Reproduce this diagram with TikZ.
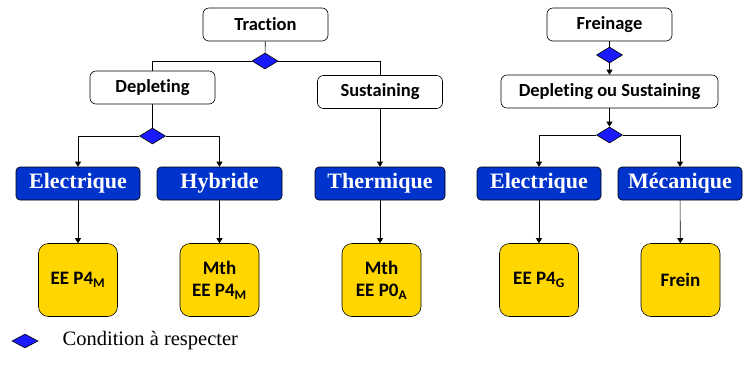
\documentclass[tikz,border=0pt]{standalone}
\usepackage{fontspec}
\setmainfont{Liberation Serif}
\newfontfamily\calibri[Ligatures=NoCommon]{Carlito}
\usetikzlibrary{shapes.geometric,arrows.meta}
\definecolor{condblue}{RGB}{26,26,255}
\definecolor{modeblue}{RGB}{0,51,204}
\definecolor{archgold}{RGB}{255,214,0}

\begin{document}
\begin{tikzpicture}[x=1pt, y=-1pt,
    cond/.style={diamond, draw, fill=condblue, minimum width=26pt,
      minimum height=16pt, inner sep=0pt, aspect=1.6},
    whitebox/.style={draw, fill=white, rounded corners=6pt, minimum width=125pt,
      minimum height=33pt, font=\calibri\bfseries\fontsize{18.5}{21}\selectfont},
    bluebox/.style={draw, fill=modeblue, rounded corners=4pt, minimum width=125pt,
      minimum height=33pt, text=white, font=\bfseries\fontsize{22}{26}\selectfont},
    yellowbox/.style={draw, fill=archgold, rounded corners=10pt, minimum width=79pt,
      minimum height=73pt, align=center,
      font=\calibri\bfseries\fontsize{19}{22.5}\selectfont},
    arr/.style={-{Triangle[length=5pt,width=6pt]}},
    line width=0.6pt]
  \useasboundingbox (0,0) rectangle (745,365);

  % traction
  \node[whitebox] (traction) at (265.5,24.5) {Traction};
  \node[cond] (c1) at (265,61) {};
  \node[whitebox] (depleting) at (152.5,87.5) {Depleting};
  \node[whitebox] (sustaining) at (380,92) {Sustaining};
  \node[cond] (c2) at (152.5,136) {};
  \node[bluebox, minimum width=124pt] (elec1) at (78,183.5) {Electrique};
  \node[bluebox] (hybride) at (219.5,183.5) {Hybride};
  \node[bluebox, minimum width=130pt] (thermique) at (380,183.5) {Thermique};
  \node[yellowbox] (ep4m) at (78,280) {EE P4\textsubscript{M}};
  \node[yellowbox] (mthp4m) at (219.5,280) {Mth\\EE P4\textsubscript{M}};
  \node[yellowbox] (mthp0a) at (381.5,280) {Mth\\EE P0\textsubscript{A}};

  \draw (traction) -- (c1);
  \draw (c1.west) -| (depleting.north);
  \draw (c1.east) -| (sustaining.north);
  \draw (depleting) -- (c2);
  \draw[arr] (c2.west) -| (elec1.north);
  \draw[arr] (c2.east) -| (hybride.north);
  \draw[arr] (sustaining) -- (thermique);
  \draw[arr] (elec1) -- (ep4m);
  \draw[arr] (hybride) -- (mthp4m);
  \draw[arr] (thermique) -- (thermique |- mthp0a.north);

  % freinage
  \node[whitebox] (freinage) at (609.5,24.5) {Freinage};
  \node[cond] (c3) at (609.5,55) {};
  \node[whitebox, minimum width=217pt] (dos) at (609.5,91.5) {Depleting ou Sustaining};
  \node[cond] (c4) at (609.5,135) {};
  \node[bluebox, minimum width=124pt] (elec2) at (539,183.5) {Electrique};
  \node[bluebox, minimum width=124pt] (meca) at (680,183.5) {Mécanique};
  \node[yellowbox] (ep4g) at (539,280) {EE P4\textsubscript{G}};
  \node[yellowbox] (frein) at (680.5,280) {Frein};

  \draw (freinage) -- (c3);
  \draw[arr] (c3) -- (dos);
  \draw[arr] (dos) -- (c4);
  \draw[arr] (c4.west) -| (elec2.north);
  \draw[arr] (c4.east) -| (meca.north);
  \draw[arr] (elec2) -- (ep4g);
  \draw[arr] (meca) -- (frein);

  % legende
  \node[cond, minimum height=14pt, aspect=1.85] (legcond) at (25,341) {};
  \node[anchor=west, font=\fontsize{20.5}{24}\selectfont] (legtext) at (59,341)
    {Condition à respecter};
\end{tikzpicture}
\end{document}
